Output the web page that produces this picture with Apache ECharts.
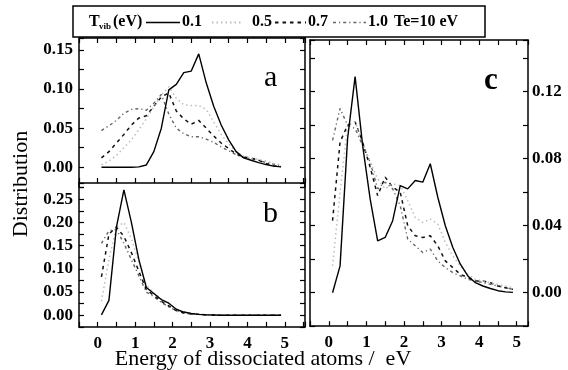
<!DOCTYPE html>
<html>
<head>
<meta charset="utf-8">
<script src="https://cdn.jsdelivr.net/npm/echarts@6/dist/echarts.min.js"></script>
<style>html,body{margin:0;padding:0;background:#fff;}#c{width:568px;height:370px;}</style>
</head>
<body>
<div id="c"></div>
<script>
// Energy grid (eV)
var energy = [0.1,0.3,0.5,0.7,0.9,1.1,1.3,1.5,1.7,1.9,2.1,2.3,2.5,2.7,2.9,3.1,3.3,3.5,3.7,3.9,4.1,4.3,4.5,4.7,4.9];
var seriesNames = ['0.1','0.5','0.7','1.0'];

// Panel a
var a_T01 = [0,0,0,0,0,0.0005,0.003,0.02,0.05,0.099,0.106,0.121,0.123,0.145,0.108,0.078,0.054,0.035,0.02,0.012,0.009,0.006,0.0035,0.0015,0.0005];
var a_T05 = [0.003,0.008,0.015,0.025,0.035,0.048,0.062,0.078,0.092,0.103,0.088,0.08,0.079,0.079,0.074,0.058,0.042,0.03,0.02,0.014,0.012,0.01,0.008,0.005,0.003];
var a_T07 = [0.012,0.02,0.031,0.042,0.054,0.063,0.066,0.078,0.09,0.095,0.072,0.062,0.055,0.06,0.05,0.04,0.031,0.024,0.017,0.013,0.012,0.009,0.005,0.002,0.001];
var a_T10 = [0.047,0.053,0.06,0.069,0.074,0.075,0.073,0.082,0.093,0.068,0.05,0.043,0.039,0.039,0.036,0.032,0.026,0.021,0.016,0.013,0.011,0.009,0.006,0.004,0.002];

// Panel b
var b_T01 = [0.001,0.032,0.19,0.27,0.2,0.12,0.06,0.047,0.034,0.026,0.013,0.007,0.004,0.002,0.001,0.0005,0,0,0,0,0,0,0,0,0];
var b_T05 = [0.03,0.12,0.19,0.2,0.165,0.115,0.065,0.048,0.035,0.025,0.013,0.007,0.004,0.002,0.001,0.0005,0,0,0,0,0,0,0,0,0];
var b_T07 = [0.083,0.175,0.19,0.17,0.135,0.095,0.055,0.043,0.03,0.02,0.01,0.005,0.003,0.002,0.001,0.0005,0,0,0,0,0,0,0,0,0];
var b_T10 = [0.155,0.182,0.185,0.155,0.12,0.085,0.05,0.04,0.028,0.018,0.01,0.005,0.003,0.002,0.001,0.0005,0,0,0,0,0,0,0,0,0];

// Panel c
var c_T01 = [0,0.016,0.092,0.129,0.088,0.056,0.031,0.033,0.043,0.064,0.062,0.067,0.066,0.077,0.057,0.04,0.027,0.017,0.01,0.006,0.004,0.0025,0.0012,0.0005,0.0002];
var c_T05 = [0.016,0.06,0.1,0.102,0.09,0.078,0.068,0.062,0.065,0.064,0.055,0.045,0.042,0.044,0.041,0.03,0.022,0.016,0.011,0.008,0.007,0.006,0.005,0.004,0.003];
var c_T07 = [0.043,0.09,0.1,0.102,0.09,0.075,0.058,0.069,0.063,0.06,0.04,0.034,0.033,0.034,0.028,0.019,0.015,0.011,0.009,0.007,0.007,0.006,0.004,0.003,0.002];
var c_T10 = [0.091,0.11,0.1,0.098,0.088,0.078,0.062,0.066,0.062,0.052,0.032,0.028,0.024,0.026,0.019,0.015,0.012,0.01,0.008,0.007,0.006,0.005,0.004,0.003,0.002];

var aLabels = ['0.00','0.05','0.10','0.15'];
var bLabels = ['0.00','0.05','0.10','0.15','0.20','0.25'];
var cLabels = ['0.00','0.04','0.08','0.12'];
var xLabels = ['0','1','2','3','4','5'];

var FONT = 'Liberation Serif';
var styles = [
  {color:'#000000', type:'solid', width:1.4},
  {color:'#bdbdbd', type:[1.5,3], width:1.5},
  {color:'#111111', type:[3.5,4], width:1.5},
  {color:'#666666', type:[3,3,1.2,3], width:1.4}
];

function pairs(ys){ return energy.map(function(x,i){ return [x, ys[i]]; }); }
function labelFmt(list){
  return function(v){
    for (var i=0;i<list.length;i++){ if (Math.abs(parseFloat(list[i]) - v) < 1e-6) return list[i]; }
    return '';
  };
}
function xFmt(v){
  for (var i=0;i<xLabels.length;i++){ if (Math.abs(parseFloat(xLabels[i]) - v) < 1e-6) return xLabels[i]; }
  return '';
}
var lineS = {show:true, onZero:false, lineStyle:{color:'#000', width:1.5}};
var labS = {fontFamily:FONT, fontWeight:'bold', fontSize:17, color:'#000'};

function xAx(grid, min, max, opts){
  return Object.assign({
    type:'value', gridIndex:grid, min:min, max:max, interval:0.5,
    splitLine:{show:false}, axisLine:lineS,
    axisTick:{show:true, inside:true, length:5, lineStyle:{color:'#000', width:1.2}},
    axisLabel:{show:false}
  }, opts);
}
function yAx(grid, min, max, interval, opts){
  return Object.assign({
    type:'value', gridIndex:grid, min:min, max:max, interval:interval,
    splitLine:{show:false}, axisLine:lineS,
    axisTick:{show:true, inside:true, length:5, lineStyle:{color:'#000', width:1.2}},
    axisLabel:{show:false}
  }, opts);
}

var A = {xmin:-0.5, xmax:5.54, ymin:-0.025, ymax:0.1653};
var B = {xmin:-0.5, xmax:5.54, ymin:-0.025, ymax:0.285};
var C = {xmin:-0.5, xmax:5.3, ymin:-0.02, ymax:0.1509};

var option = {
  animation:false,
  backgroundColor:'#ffffff',
  grid:[
    {left:79, top:38, width:226, height:148.85},
    {left:79, top:183, width:226, height:143.9},
    {left:310, top:40, width:218, height:286.2}
  ],
  xAxis:[
    xAx(0, A.xmin, A.xmax, {position:'bottom', axisLine:{show:false, onZero:false}, axisTick:{show:false}}),
    xAx(0, A.xmin, A.xmax, {position:'top'}),
    xAx(1, B.xmin, B.xmax, {position:'bottom', axisLabel:Object.assign({show:true, margin:8, formatter:xFmt}, labS)}),
    xAx(1, B.xmin, B.xmax, {position:'top', axisTick:{show:true, inside:false, length:5, lineStyle:{color:'#000', width:1.2}}}),
    xAx(2, C.xmin, C.xmax, {position:'bottom', axisLabel:Object.assign({show:true, margin:8, formatter:xFmt}, labS)}),
    xAx(2, C.xmin, C.xmax, {position:'top'})
  ],
  yAxis:[
    yAx(0, A.ymin, A.ymax, 0.025, {position:'left', axisLabel:Object.assign({show:true, margin:6, formatter:labelFmt(aLabels)}, labS)}),
    yAx(0, A.ymin, A.ymax, 0.025, {position:'right'}),
    yAx(1, B.ymin, B.ymax, 0.025, {position:'left', axisLabel:Object.assign({show:true, margin:6, formatter:labelFmt(bLabels)}, labS)}),
    yAx(1, B.ymin, B.ymax, 0.025, {position:'right'}),
    yAx(2, C.ymin, C.ymax, 0.02, {position:'left'}),
    yAx(2, C.ymin, C.ymax, 0.02, {position:'right', axisLabel:Object.assign({show:true, margin:4, formatter:labelFmt(cLabels)}, labS)})
  ],
  series:[],
  graphic:[]
};

var panels = [
  {x:0, y:0, data:[a_T01,a_T05,a_T07,a_T10]},
  {x:2, y:2, data:[b_T01,b_T05,b_T07,b_T10]},
  {x:4, y:4, data:[c_T01,c_T05,c_T07,c_T10]}
];
panels.forEach(function(p){
  p.data.forEach(function(ys, k){
    option.series.push({
      type:'line', name:seriesNames[k], xAxisIndex:p.x, yAxisIndex:p.y,
      data:pairs(ys), symbol:'none', silent:true, z:5-k,
      lineStyle:{color:styles[k].color, type:styles[k].type, width:styles[k].width}
    });
  });
});

// Panel letters and axis titles
option.graphic.push(
  {type:'text', left:264, top:63, style:{text:'a', font:'30px "'+FONT+'"', fill:'#000'}},
  {type:'text', left:263, top:199, style:{text:'b', font:'30px "'+FONT+'"', fill:'#000'}},
  {type:'text', left:484, top:65, style:{text:'c', font:'bold 31px "'+FONT+'"', fill:'#000'}},
  {type:'text', x:21, y:184, rotation:Math.PI/2, style:{text:'Distribution', font:'22px "'+FONT+'"', fill:'#000', align:'center', verticalAlign:'middle'}},
  {type:'text', x:263, y:359, style:{text:'Energy of dissociated atoms /  eV', font:'22px "'+FONT+'"', fill:'#000', align:'center', verticalAlign:'middle'}}
);

// Legend box
var ly = 21.5;
var bf = 'bold 16px "'+FONT+'"';
option.graphic.push(
  {type:'rect', shape:{x:73, y:6, width:412, height:31}, style:{fill:'#fff', stroke:'#000', lineWidth:1.5}, z:10},
  {type:'text', x:89, y:ly, z:11, style:{text:'T', font:bf, fill:'#000', verticalAlign:'middle'}},
  {type:'text', x:99, y:ly+5, z:11, style:{text:'vib', font:'bold 9px "'+FONT+'"', fill:'#000', verticalAlign:'middle'}},
  {type:'text', x:113, y:ly, z:11, style:{text:'(eV)', font:bf, fill:'#000', verticalAlign:'middle'}},
  {type:'text', x:182, y:ly, z:11, style:{text:seriesNames[0], font:bf, fill:'#000', verticalAlign:'middle'}},
  {type:'text', x:252, y:ly, z:11, style:{text:seriesNames[1], font:bf, fill:'#000', verticalAlign:'middle'}},
  {type:'text', x:308, y:ly, z:11, style:{text:seriesNames[2], font:bf, fill:'#000', verticalAlign:'middle'}},
  {type:'text', x:368, y:ly, z:11, style:{text:seriesNames[3], font:bf, fill:'#000', verticalAlign:'middle'}},
  {type:'text', x:394, y:ly, z:11, style:{text:'Te=10 eV', font:bf, fill:'#000', verticalAlign:'middle'}}
);
var legLines = [[146,180],[212,242],[275,306],[333,366]];
legLines.forEach(function(seg, k){
  option.graphic.push({type:'line', z:11, shape:{x1:seg[0], y1:ly+1, x2:seg[1], y2:ly+1},
    style:{stroke:styles[k].color, lineWidth:styles[k].width+0.3, lineDash:(styles[k].type==='solid'?null:styles[k].type)}});
});

var chart = echarts.init(document.getElementById('c'), null, {renderer:'canvas'});
chart.setOption(option);
</script>
</body>
</html>
